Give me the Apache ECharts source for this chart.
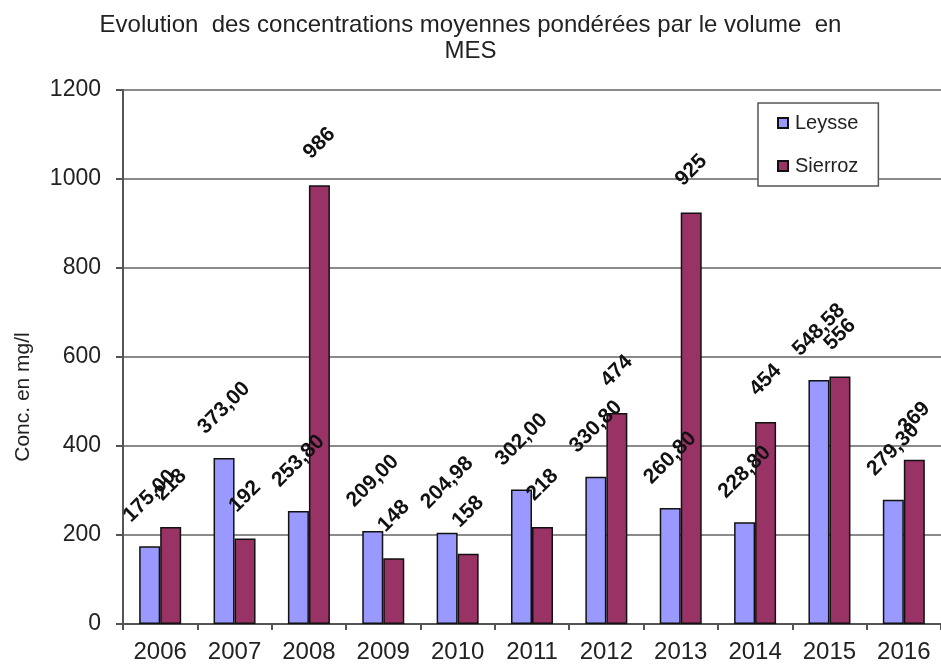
<!DOCTYPE html>
<html>
<head>
<meta charset="utf-8">
<script src="https://cdn.jsdelivr.net/npm/echarts@6/dist/echarts.min.js"></script>
<style>
  html, body { margin: 0; padding: 0; background: #fff; }
  #chart { width: 941px; height: 666px; }
</style>
</head>
<body>
<div id="chart"></div>
<script>
var years = ['2006', '2007', '2008', '2009', '2010', '2011', '2012', '2013', '2014', '2015', '2016']
var leysse = [175.00, 373.00, 253.80, 209.00, 204.98, 302.00, 330.80, 260.80, 228.80, 548.58, 279.30]
var sierroz = [218, 192, 986, 148, 158, 218, 474, 925, 454, 556, 369]
var yTicks = [0, 200, 400, 600, 800, 1000, 1200]

var chart = echarts.init(document.getElementById('chart'))

var font = 'Liberation Sans, Arial, sans-serif'

function labelStyle(dist, fmt) {
  return {
    show: true,
    position: 'top',
    distance: dist,
    rotate: 45,
    align: 'center',
    verticalAlign: 'middle',
    fontFamily: font,
    fontSize: 21,
    fontWeight: 'bold',
    color: '#111',
    formatter: fmt
  }
}

var option = {
  animation: false,
  backgroundColor: '#fff',
  title: {
    text: 'Evolution  des concentrations moyennes pondérées par le volume  en\nMES',
    left: 'center',
    top: 7,
    textStyle: {
      fontFamily: font,
      fontSize: 24,
      fontWeight: 'normal',
      color: '#222',
      lineHeight: 26
    }
  },
  legend: {
    orient: 'vertical',
    left: 758,
    top: 103,
    padding: [10, 20, 10, 19],
    itemGap: 23,
    itemWidth: 10,
    itemHeight: 10,
    icon: 'rect',
    backgroundColor: '#fff',
    borderColor: '#555',
    borderWidth: 1.5,
    textStyle: { fontFamily: font, fontSize: 20, color: '#222', padding: [0, 0, 0, 2] },
    data: ['Leysse', 'Sierroz']
  },
  grid: { left: 123, right: -7, top: 90, bottom: 42 },
  xAxis: {
    type: 'category',
    data: years,
    axisLine: { lineStyle: { color: '#555', width: 2 } },
    axisTick: { show: true, length: 6, lineStyle: { color: '#555', width: 2 } },
    axisLabel: { fontFamily: font, fontSize: 24, color: '#222', margin: 16 }
  },
  yAxis: {
    type: 'value',
    min: yTicks[0],
    max: yTicks[yTicks.length - 1],
    interval: 200,
    name: 'Conc. en mg/l',
    nameLocation: 'middle',
    nameGap: 89,
    nameTextStyle: { fontFamily: font, fontSize: 21, color: '#222', padding: [0, 80, 0, 0] },
    axisLine: { show: true, lineStyle: { color: '#555', width: 2 } },
    axisTick: { show: true, length: 7, lineStyle: { color: '#555', width: 2 } },
    axisLabel: {
      fontFamily: font, fontSize: 23, color: '#222', margin: 22,
      formatter: function (v) { return String(v) }
    },
    splitLine: { lineStyle: { color: '#8a8a8a', width: 2 } }
  },
  series: [
    {
      name: 'Leysse',
      type: 'bar',
      data: leysse,
      barWidth: 21,
      barGap: 0,
      itemStyle: { color: '#9999FF', borderColor: '#111', borderWidth: 1.5 },
      label: labelStyle(50, function (p) { return p.value.toFixed(2).replace('.', ',') })
    },
    {
      name: 'Sierroz',
      type: 'bar',
      data: sierroz,
      barWidth: 21,
      itemStyle: { color: '#993366', borderColor: '#111', borderWidth: 1.5 },
      label: labelStyle(42, function (p) { return String(p.value) })
    }
  ]
}

chart.setOption(option)
</script>
</body>
</html>
